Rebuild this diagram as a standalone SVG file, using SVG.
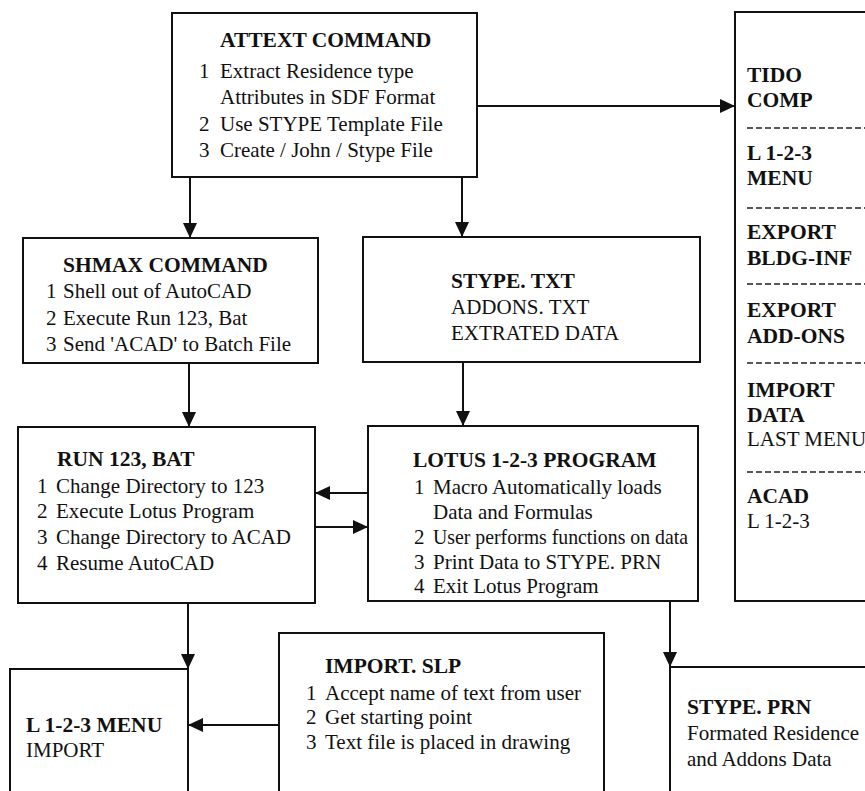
<svg xmlns="http://www.w3.org/2000/svg" width="865" height="791" viewBox="0 0 865 791">
<style>
  .box { fill: #fff; stroke: #111; stroke-width: 2; }
  .conn { stroke: #111; stroke-width: 2; fill: none; marker-end: url(#arrow); }
  .dash { stroke: #222; stroke-width: 1.3; stroke-dasharray: 6 3; }
  text { font-family: "Liberation Serif", "Times New Roman", serif; font-size: 21px; fill: #111; }
  .h { font-weight: bold; font-size: 21.5px; }
</style>
<defs>
  <marker id="arrow" markerUnits="userSpaceOnUse" markerWidth="15" markerHeight="14" refX="15" refY="7" orient="auto">
    <path d="M0,0 L15,7 L0,14 z" fill="#111"/>
  </marker>
</defs>
<rect width="865" height="791" fill="#fff"/>

<g id="connectors">
  <line class="conn" x1="190" y1="177" x2="190" y2="238"/>
  <line class="conn" x1="462" y1="177" x2="462" y2="237"/>
  <line class="conn" x1="477" y1="106" x2="735" y2="106"/>
  <line class="conn" x1="189" y1="363" x2="189" y2="427"/>
  <line class="conn" x1="463" y1="362" x2="463" y2="426"/>
  <line class="conn" x1="368" y1="493" x2="315" y2="493"/>
  <line class="conn" x1="315" y1="527" x2="368" y2="527"/>
  <line class="conn" x1="188" y1="603" x2="188" y2="669"/>
  <line class="conn" x1="279" y1="725" x2="188" y2="725"/>
  <line class="conn" x1="670" y1="601" x2="670" y2="667"/>
</g>

<g id="attext">
  <rect class="box" x="172" y="13" width="305" height="164"/>
  <text class="h" x="220" y="47">ATTEXT COMMAND</text>
  <text x="199" y="78">1</text><text x="220" y="78">Extract Residence type</text>
  <text x="220" y="104">Attributes in SDF Format</text>
  <text x="199" y="131">2</text><text x="220" y="131">Use STYPE Template File</text>
  <text x="199" y="157">3</text><text x="220" y="157">Create / John / Stype File</text>
</g>

<g id="tido">
  <rect class="box" x="735" y="12" width="200" height="589"/>
  <text class="h" x="747" y="82">TIDO</text>
  <text class="h" x="747" y="107">COMP</text>
  <line class="dash" x1="747" y1="128" x2="865" y2="128"/>
  <text class="h" x="747" y="160">L 1-2-3</text>
  <text class="h" x="747" y="185">MENU</text>
  <line class="dash" x1="747" y1="208" x2="865" y2="208"/>
  <text class="h" x="747" y="239">EXPORT</text>
  <text class="h" x="747" y="265">BLDG-INF</text>
  <line class="dash" x1="747" y1="284" x2="865" y2="284"/>
  <text class="h" x="747" y="317">EXPORT</text>
  <text class="h" x="747" y="343">ADD-ONS</text>
  <line class="dash" x1="747" y1="363" x2="865" y2="363"/>
  <text class="h" x="747" y="397">IMPORT</text>
  <text class="h" x="747" y="422">DATA</text>
  <text x="747" y="446">LAST MENU</text>
  <line class="dash" x1="747" y1="472" x2="865" y2="472"/>
  <text class="h" x="747" y="503">ACAD</text>
  <text x="747" y="528">L 1-2-3</text>
</g>

<g id="shmax">
  <rect class="box" x="23" y="238" width="295" height="125"/>
  <text class="h" x="63" y="272">SHMAX COMMAND</text>
  <text x="46" y="298">1</text><text x="63" y="298">Shell out of AutoCAD</text>
  <text x="46" y="325">2</text><text x="63" y="325">Execute Run 123, Bat</text>
  <text x="46" y="351">3</text><text x="63" y="351">Send 'ACAD' to Batch File</text>
</g>

<g id="stype-txt">
  <rect class="box" x="363" y="237" width="337" height="125"/>
  <text class="h" x="451" y="288">STYPE. TXT</text>
  <text x="451" y="314">ADDONS. TXT</text>
  <text x="451" y="340">EXTRATED DATA</text>
</g>

<g id="run123">
  <rect class="box" x="18" y="427" width="297" height="176"/>
  <text class="h" x="57" y="466">RUN 123, BAT</text>
  <text x="37" y="493">1</text><text x="56" y="493">Change Directory to 123</text>
  <text x="37" y="518">2</text><text x="56" y="518">Execute Lotus Program</text>
  <text x="37" y="544">3</text><text x="56" y="544">Change Directory to ACAD</text>
  <text x="37" y="570">4</text><text x="56" y="570">Resume AutoCAD</text>
</g>

<g id="lotus">
  <rect class="box" x="368" y="426" width="330" height="175"/>
  <text class="h" x="413" y="467">LOTUS 1-2-3 PROGRAM</text>
  <text x="414" y="494">1</text><text x="433" y="494">Macro Automatically loads</text>
  <text x="433" y="519">Data and Formulas</text>
  <text x="414" y="544">2</text><text x="433" y="544" textLength="255" lengthAdjust="spacingAndGlyphs">User performs functions on data</text>
  <text x="414" y="569">3</text><text x="433" y="569">Print Data to STYPE. PRN</text>
  <text x="414" y="593">4</text><text x="433" y="593">Exit Lotus Program</text>
</g>

<g id="l123-menu">
  <rect class="box" x="10" y="669" width="178" height="140"/>
  <text class="h" x="26" y="732">L 1-2-3 MENU</text>
  <text x="26" y="757">IMPORT</text>
</g>

<g id="import-slp">
  <rect class="box" x="279" y="633" width="325" height="176"/>
  <text class="h" x="325" y="673">IMPORT. SLP</text>
  <text x="306" y="700">1</text><text x="325" y="700">Accept name of text from user</text>
  <text x="306" y="724">2</text><text x="325" y="724">Get starting point</text>
  <text x="306" y="749">3</text><text x="325" y="749">Text file is placed in drawing</text>
</g>

<g id="stype-prn">
  <rect class="box" x="670" y="667" width="230" height="142"/>
  <text class="h" x="687" y="714">STYPE. PRN</text>
  <text x="687" y="740">Formated Residence</text>
  <text x="687" y="766">and Addons Data</text>
</g>
</svg>
